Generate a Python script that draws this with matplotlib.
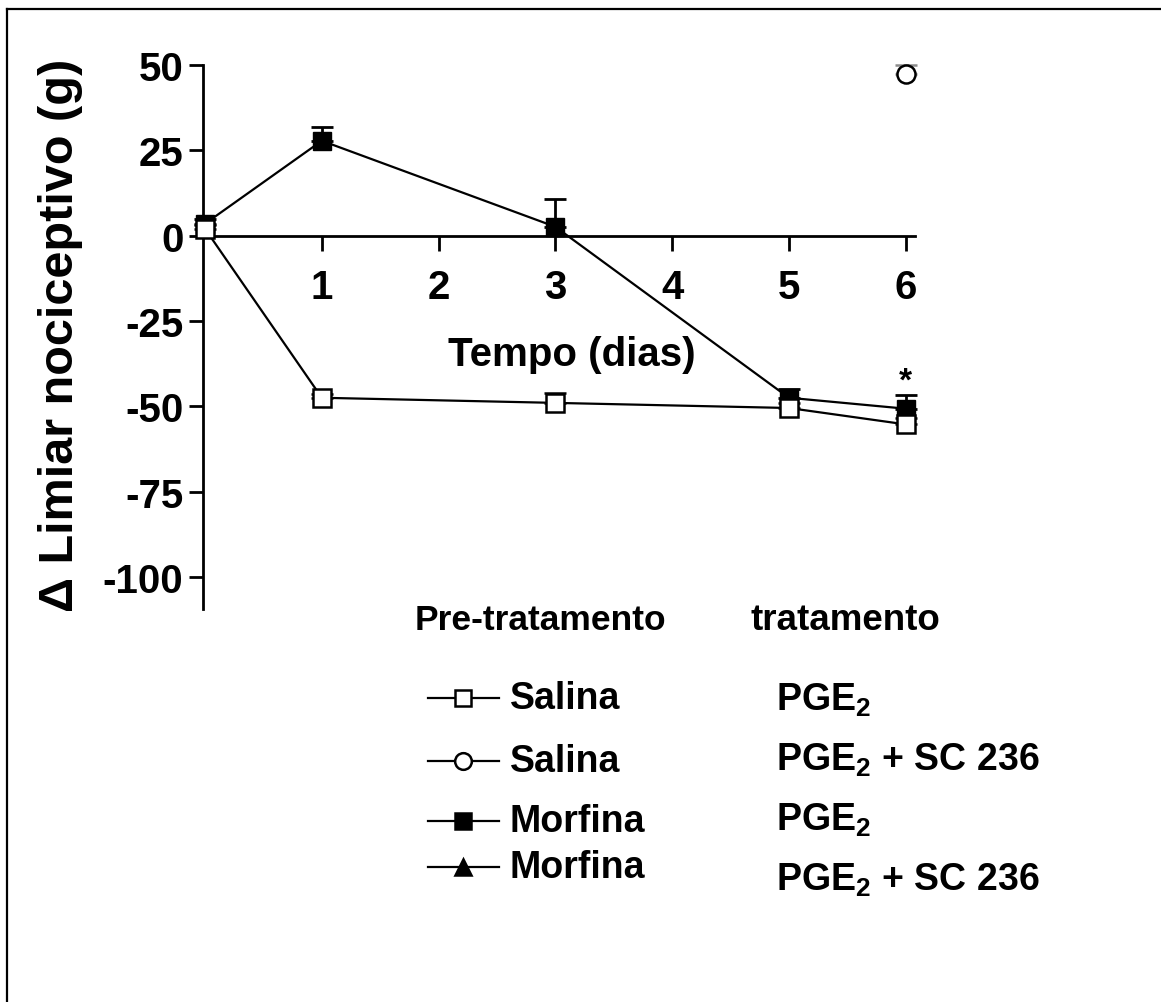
import matplotlib
matplotlib.use("Agg")
import matplotlib.pyplot as plt

plt.rcParams['font.family'] = ['Liberation Sans', 'DejaVu Sans']
plt.rcParams['font.weight'] = 'bold'
plt.rcParams['axes.unicode_minus'] = False
plt.rcParams['mathtext.fontset'] = 'custom'
plt.rcParams['mathtext.rm'] = 'Liberation Sans:bold'
plt.rcParams['mathtext.default'] = 'rm'

# dias de tratamento
days = [0, 1, 3, 5, 6]

# Salina -> PGE2 (quadrado aberto)
salina_pge2 = [2, -47.5, -49, -50.5, -55.3]
salina_pge2_err = [1, 1, 3, 1.5, 2]

# Morfina -> PGE2 (quadrado cheio)
morfina_pge2 = [3.5, 27.8, 2.6, -47.5, -50.7]
morfina_pge2_err = [1.5, 4, 8, 2.5, 4]

# Salina -> PGE2 + SC 236 (circulo aberto), so no dia 6
salina_sc_day = [6]
salina_sc = [47.5]
salina_sc_err = [2.5]

yticks = [50, 25, 0, -25, -50, -75, -100]
xticks = [1, 2, 3, 4, 5, 6]

FS = 29

fig = plt.figure(figsize=(11.61, 10.03), dpi=100)
ax = fig.add_axes([0.1746, 0.3918, 0.6135, 0.5424])

ax.errorbar(days, morfina_pge2, yerr=[[0] * 5, morfina_pge2_err], color='black',
            lw=1.6, marker='s', ms=13, mfc='black', mec='black',
            capsize=8, capthick=2, elinewidth=2, zorder=3, clip_on=False)
ax.errorbar(days, salina_pge2, yerr=[[0] * 5, salina_pge2_err], color='black',
            lw=1.6, marker='s', ms=13, mfc='white', mec='black', mew=1.8,
            capsize=8, capthick=2, elinewidth=2, zorder=4, clip_on=False)
ax.errorbar(salina_sc_day, salina_sc, yerr=[[0], salina_sc_err], color='black',
            lw=1.6, marker='o', ms=13, mfc='white', mec='black', mew=1.8,
            ecolor='0.55', capsize=8, capthick=1, elinewidth=1, zorder=4, clip_on=False)

ax.text(6, -42.5, '*', ha='center', va='center', fontsize=24, fontweight='bold')

ax.set_xlim(-0.02, 6.08)
ax.set_ylim(-109.4, 50)
ax.spines['top'].set_visible(False)
ax.spines['right'].set_visible(False)
ax.spines['bottom'].set_position(('data', 0))
ax.spines['bottom'].set_linewidth(2)
ax.spines['left'].set_linewidth(2)

ax.set_xticks(xticks)
ax.set_yticks(yticks)
ax.set_xticklabels([str(t) for t in xticks])
ax.set_yticklabels([str(t) for t in yticks])
ax.tick_params(axis='x', direction='out', length=11, width=2, pad=12, labelsize=FS)
ax.tick_params(axis='y', direction='out', length=10, width=2, pad=4, labelsize=FS)

ax.set_xlabel('Tempo (dias)', fontsize=FS, fontweight='bold', va='center')
ax.xaxis.set_label_coords(0.5185, 0.469)
ax.set_ylabel('Δ Limiar nociceptivo (g)', fontsize=35, fontweight='bold', va='center')
ax.yaxis.set_label_coords(-0.200, 0.505)

# painel de legenda em coordenadas de pixel
lax = fig.add_axes([0, 0, 1, 1])
lax.set_xlim(0, 1161)
lax.set_ylim(1003, 0)
lax.axis('off')

lax.plot([7, 1161], [10, 10], color='black', lw=1.6)
lax.plot([7, 7], [10, 1003], color='black', lw=1.6)

lax.text(540, 620, 'Pre-tratamento', ha='center', va='center', fontsize=25.5, fontweight='bold')
lax.text(845, 620, 'tratamento', ha='center', va='center', fontsize=26.5, fontweight='bold')

rows = [
    ('s', 'white', 'Salina', 'PGE$_2$', 699, 700),
    ('o', 'white', 'Salina', 'PGE$_2$ + SC 236', 762, 760),
    ('s', 'black', 'Morfina', 'PGE$_2$', 822, 820),
    ('^', 'black', 'Morfina', 'PGE$_2$ + SC 236', 868, 880),
]
for marker, fill, pre, trat, y, y2 in rows:
    lax.plot([428, 499], [y, y], color='black', lw=1.6)
    lax.plot([463], [y], marker=marker, ms=12, mfc=fill, mec='black', mew=1.8)
    lax.text(510, y, pre, ha='left', va='center', fontsize=27, fontweight='bold')
    lax.text(776, y2, trat, ha='left', va='center', fontsize=27, fontweight='bold')

fig.savefig('out.png', dpi=100, facecolor='white')
